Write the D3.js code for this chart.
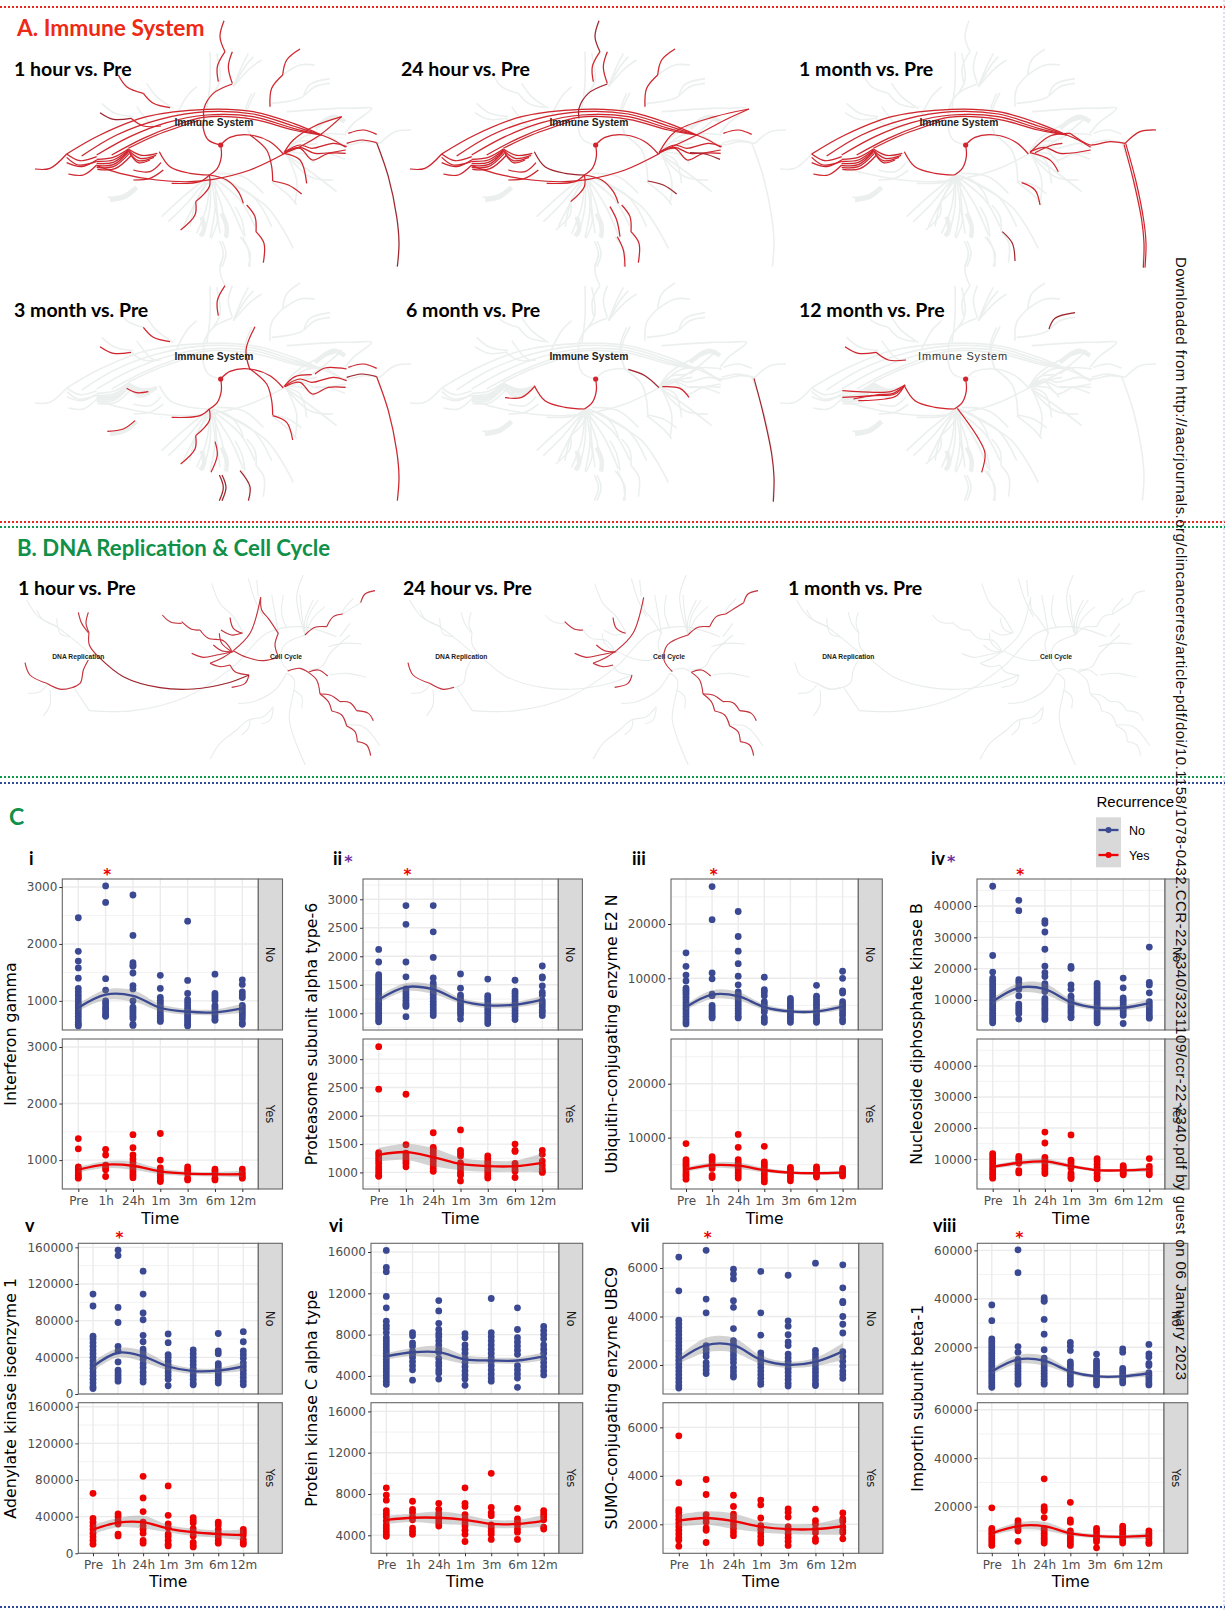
<!DOCTYPE html>
<html>
<head>
<meta charset="utf-8">
<script src="https://cdn.jsdelivr.net/npm/d3@7"></script>
<style>
  html, body { margin: 0; padding: 0; background: #fff; }
  svg { display: block; }
</style>
</head>
<body>
<svg id="fig" width="1225" height="1611"></svg>
<script>
/* time points shared by all the expression panels */
var times = ["Pre", "1h", "24h", "1m", "3m", "6m", "12m"];

/* panel C values, one list per time point */
var ifngNo = [
  [2460,1870,1700,1580,1400,1220,1160,1100,1040,980,930,880,830,780,730,680,630,590,560],
  [3020,2730,1390,1190,1000,960,910,870,830,790,750,730],
  [2860,2150,1670,1630,1610,1490,1270,1210,1000,890,850,810,770,730,690,590,570],
  [1450,1220,1060,1010,970,930,880,840,790,750,710,670,640],
  [2400,1360,1130,1020,970,920,870,830,790,750,710,670,630,590,560],
  [1470,1130,1090,1050,1010,920,880,840,800,760,720,680,660],
  [1370,1290,1160,1110,1060,920,880,840,800,760,720,680,620,590]];
var ifngYes = [
  [1380,1200,880,850,810,770,730,700,680],
  [1190,1090,910,870,830,710],
  [1450,1220,1090,1020,960,900,860,810,770,730,690],
  [1470,1000,860,810,770,730,690,650,620],
  [880,830,790,760,680,650],
  [840,800,760,680,650],
  [840,780,740,700,680]];
var psma6No = [
  [2120,1900,1680,1640,1600,1560,1520,1480,1440,1400,1360,1320,1280,1240,1200,1160,1120,1080,1040,1000,960,920,880,850],
  [2890,2560,1900,1640,1430,1380,1330,1280,1230,1180,1150,1120,940],
  [2890,2430,1980,1620,1530,1480,1430,1380,1330,1270,1210,1160,1110,1060,1010,960],
  [1690,1440,1320,1270,1220,1170,1120,1070,1020,970,900],
  [1600,1310,1270,1220,1170,1120,1070,1020,970,920,870,820],
  [1580,1390,1350,1300,1250,1200,1150,1100,1050,1000,950,890],
  [1830,1640,1620,1480,1370,1320,1220,1170,1120,1060,1020,960]];
var psma6Yes = [
  [3220,2470,1350,1310,1260,1210,1160,1100,1050,1000,950,930],
  [2380,1490,1340,1290,1240,1200,1160,1100],
  [1700,1440,1400,1350,1300,1240,1190,1130,1070,1020],
  [1750,1390,1340,1290,1170,1120,1060,1000,950,850],
  [1290,1240,1190,1140,1090,1040,990,940,900],
  [1500,1390,1370,1160,1110,1060,1020,910],
  [1390,1320,1200,1130,1060,1020,1000]];
var ube2nNo = [
  [14700,12200,10600,9500,8200,7800,7400,7000,6500,6000,5500,5000,4500,4000,3500,3000,2500,2000,1600],
  [26900,20800,11000,9900,7100,6800,5000,4600,4200,3800,3400,3000,2700],
  [22300,17700,15000,12700,10400,8800,7500,7000,6500,6000,5500,5000,4500,4000,3500,3000,2700],
  [10200,7900,7500,6800,5700,5200,4700,4200,3800,2800,2300,1900],
  [6300,5900,5500,5100,4700,4300,3900,3500,3100,2700,2300,1900],
  [8700,6700,6200,5700,5200,4700,4200,3700,3200,2700,2200,1900],
  [11300,10000,7700,7300,5700,5200,4800,4300,3700,3200,2500,2000]];
var ube2nYes = [
  [8900,5900,5500,5100,4700,4200,3700,3200,2800,2300],
  [6500,6100,5700,5200,4800,4300,3000,2600],
  [10600,8200,5900,5400,5000,4500,4000,3500,3000,2500],
  [8400,5500,5100,4700,4200,3700,3200,2700,2200,1800],
  [4500,4100,3700,3300,2900,2500,2000],
  [4600,4200,3800,3400,3000,2700],
  [4300,3900,3500,3100,2900]];
var nme2No = [
  [46300,24200,18900,17000,16200,15400,14600,13800,13000,12200,11400,10600,9800,9000,8200,7400,6600,5800,5000,4200,3400,2700],
  [41800,38500,16500,15600,14400,13400,11300,8700,7900,7200,6500,5700,3900],
  [35300,34500,31700,26200,20800,18700,17500,15200,14500,13800,12700,10500,9700,9000,8200,7400,6700,5900,5200,4400,3800],
  [20700,20100,14800,13400,11200,10300,9600,8800,8000,7200,6400,5700,4800,4300],
  [15300,14500,13700,12900,12100,11300,10500,9700,8900,8100,7300,6500,5700,4900,4100,3300,2700],
  [17000,13900,10700,9900,9100,8300,7500,6700,5900,5100,2500],
  [26900,15600,14800,12300,9500,8700,7900,7100,6300,5500,4700,4200]];
var nme2Yes = [
  [11800,11000,10200,9400,8600,7800,7000,6200,5400,4600,3900],
  [10900,10200,9500,8700,6300,5600],
  [18700,15200,10600,9800,8900,8000,7100,6200,5400],
  [17800,9700,8900,8100,7200,5500,4800,4200,3800],
  [10200,9400,8400,7300,6400,5500,4400,3700],
  [7900,7300,6700,6100,5500,5000],
  [10200,7700,6700,5700,5000]];
var ak1No = [
  [109000,96000,63000,60000,56000,52000,48000,44000,40000,36000,32000,28000,24000,20000,16000,12000,8000,6000],
  [157000,151000,94500,78000,52000,47000,35000,26000,23000,20000,17000,14000],
  [134000,109000,88500,81000,64000,57000,49000,46000,42000,38000,33000,29000,24000,20000,16000,13000],
  [65500,56000,43000,40000,36000,32000,28000,24000,20000,16000,9000],
  [48000,44000,40000,36000,32000,28000,24000,20000,16000,12000,10000],
  [66000,47000,44000,33000,30000,27000,24000,21000,18000,15000,12000],
  [68000,57000,47000,43000,39000,34000,30000,26000,22000,18000,14000,10000]];
var ak1Yes = [
  [65500,38000,34000,30000,26000,22000,18000,14000,10000],
  [43000,40000,36000,32000,21000,19000],
  [84000,60500,45500,34000,30000,26000,22000,14000,11000],
  [73500,41500,32000,28000,21000,18000,14000,10000,8000],
  [39000,36000,33000,27000,23000,19000,12000,9000,7000],
  [34000,31000,26000,22000,18000,14000,11000],
  [26000,23000,20000,15000,12000,10000]];
var pkcaNo = [
  [16150,14500,14100,11700,10600,9300,8900,8600,8200,7700,7400,7100,6800,6500,6200,5900,5600,5300,5000,4700,4400,4100,3800,3500,3200],
  [8200,7900,7200,6900,6400,6100,5800,5400,5000,4600,3600],
  [11300,10300,9100,8500,8100,7800,7400,7000,6600,6300,5700,5300,5000,4600,4300,3700],
  [8100,7700,7000,6600,6200,5700,5300,4900,4500,4100,3700,3100],
  [11500,8200,7800,7400,7000,6600,6200,5800,5400,5000,4600,4200,3800,3500],
  [10600,8500,7700,7300,6900,6500,6100,5000,4600,4200,3800,2900],
  [8800,8400,8000,7600,7000,6600,6200,5700,5300,4900,4500,4100]];
var pkcaYes = [
  [8600,7900,7400,6400,6100,5800,5400,5000,4700,4400,4100,3900],
  [7300,6500,6200,5800,5500,4700,4400,4100],
  [7100,6500,6100,5800,5500,5200,4900],
  [8600,7100,6800,6000,5600,5200,4900,4500,4100,3400],
  [10000,6700,6200,5900,5000,4700,4400,4100,3600],
  [6600,5600,5300,5000,4600,4300,3600],
  [6400,6100,5800,5500,4800,4600]];
var ubc9No = [
  [6450,5060,3850,3700,3550,3400,3250,3100,2950,2800,2650,2500,2350,2200,2050,1900,1750,1600,1450,1300,1150,1050],
  [6730,4720,4150,2800,2650,2500,2350,2100,1950,1800,1650],
  [5950,5750,5550,4650,4380,3500,3000,2850,2700,2550,2400,2250,2100,1900,1750,1600,1500],
  [5860,4150,3230,2500,2350,2200,2050,1900,1750,1600,1450,1300,1200],
  [5700,3820,3600,3250,2950,2800,2450,2300,2150,2000,1850,1700,1550,1400,1250,1130],
  [6200,2600,2450,2300,2150,2000,1850,1700,1550,1400,1250,1150],
  [6130,5180,4620,4570,4000,3680,3320,2550,2350,2150,1950,1750,1600,1450]];
var ubc9Yes = [
  [5650,3720,2600,2500,2350,2200,2050,1900,1750,1600,1450,1350,1100],
  [3850,3230,2400,2250,2100,1850,1750,1250],
  [3200,2740,2420,2280,2130,1980,1830,1680,1530],
  [3000,2800,2260,1950,1800,1650,1500,1350,1230],
  [2640,2500,2300,1900,1750,1600,1450,1300,1130],
  [2630,2150,2000,1800,1650,1400,1300],
  [2470,2230,2130,1900,1750,1650,1400]];
var kpnb1No = [
  [37500,31000,23500,22500,21500,20500,19500,18500,17500,16500,15500,14500,13500,12500,11500,10500,9500,8500,7500,6500,5500,4500,3500],
  [60200,50800,20300,18000,15000,13800,12500,11300,10100,8900,7700,6500,5300,4800],
  [40500,39500,39000,31500,25400,19000,15500,14000,12800,11600,10400,9200,8000,6800,5600,4800],
  [22000,20500,18700,14000,13000,12000,10800,9600,8400,7200,6000,4800],
  [17200,14500,13500,12500,11500,10500,9500,8500,7500,6500,5500,4500],
  [19300,18000,11300,10300,9300,8300,7300,6300,5300],
  [21200,17300,16000,13400,12500,9500,8500,7500,6500,5300,4500]];
var kpnb1Yes = [
  [19500,11000,10000,9000,8000,7000,6000,5000,4000],
  [14200,13000,12000,11000,10000,5700],
  [31500,20000,19000,18300,15500,11000,10000,9000,8000,7000,6000,5000],
  [21800,14500,13500,10000,9000,8000,7000,6000,5000,4000],
  [11000,9900,8500,7500,6500,5500,3000],
  [12000,11000,10000,9000,8000,7000,6000,5000],
  [10000,9000,8000,7000,5500,4800]];

/* smooth fit and half width of its band at each time point */
var ifngNoFit = [880,1110,1090,880,810,800,870],        ifngNoSe = [60,90,100,60,50,50,80];
var ifngYesFit = [830,920,900,800,760,750,750],         ifngYesSe = [50,60,70,50,40,40,60];
var psma6NoFit = [1240,1460,1420,1220,1140,1150,1240],  psma6NoSe = [60,70,80,50,50,50,70];
var psma6YesFit = [1310,1360,1270,1150,1110,1110,1170], psma6YesSe = [120,140,160,110,100,100,170];
var ube2nNoFit = [4700,7000,6700,4700,3900,3900,4800],  ube2nNoSe = [500,800,800,500,400,400,600];
var ube2nYesFit = [4100,4900,4800,4000,3500,3400,3500], ube2nYesSe = [400,500,600,400,300,300,400];
var nme2NoFit = [9500,13900,13500,9300,7500,7500,9000], nme2NoSe = [1000,1500,1800,1000,800,800,1200];
var nme2YesFit = [7500,8800,9300,7800,6500,6400,6700],  nme2YesSe = [600,800,900,600,500,500,800];
var ak1NoFit = [30000,45000,41000,30000,25000,25500,30000], ak1NoSe = [5000,5000,6000,4000,3000,3000,5000];
var ak1YesFit = [26000,33500,34000,27000,23000,21000,20000], ak1YesSe = [5000,5000,7000,4000,4000,4000,6000];
var pkcaNoFit = [5900,6300,6300,5600,5500,5500,5900],   pkcaNoSe = [300,400,600,400,300,300,400];
var pkcaYesFit = [5500,5700,5700,5500,5100,5100,5400],  pkcaYesSe = [400,400,600,500,400,400,600];
var ubc9NoFit = [2200,2820,2820,2220,2010,2130,2560],   ubc9NoSe = [150,300,300,170,130,170,350];
var ubc9YesFit = [2150,2260,2130,1900,1800,1800,1920],  ubc9YesSe = [250,280,320,230,200,230,350];
var kpnb1NoFit = [10000,15000,14500,10000,8000,8000,9300], kpnb1NoSe = [1200,1800,2000,1000,800,800,1300];
var kpnb1YesFit = [9000,12000,12000,9000,7800,7500,8000], kpnb1YesSe = [1000,1500,1800,1000,800,800,1200];

/* pathway map branches, in map units (3 units to a pixel) */
var immuneBranches = {
  down: [[662,435],[664,470],[652,505],[628,525]],
  right: [[662,435],[690,412],[750,405],[810,425],[850,462]],
  rightEnd: [[760,406],[810,425],[852,461]],
  upL: [[662,435],[625,420],[610,385],[612,355]],
  upH: [[612,355],[612,325],[640,280],[697,252]],
  top1: [[672,62],[660,110],[675,155]],
  top2: [[675,155],[652,200],[655,245]],
  top3: [[697,155],[685,200],[697,250]],
  r1: [[810,320],[815,265],[848,225]],
  r2: [[848,225],[860,180],[900,147]],
  arc1: [[200,462],[300,405],[440,350],[620,328],[760,335],[880,370],[965,405]],
  arc2: [[245,468],[350,405],[480,358],[620,335],[760,342],[880,378],[965,405]],
  arc3: [[290,465],[390,410],[500,368],[620,345],[760,350],[880,385],[965,405]],
  arc4: [[335,465],[430,415],[530,375],[610,352],[760,358],[880,390],[965,405]],
  arc5: [[385,445],[470,405],[600,360]],
  arcEnd: [[965,405],[1000,420],[1037,442]],
  tail: [[105,507],[150,505],[200,462]],
  cl1: [[290,478],[340,472],[385,447]],
  cl2: [[290,484],[340,480],[385,450]],
  cl3: [[290,490],[340,487],[385,453]],
  cl4: [[290,496],[340,494],[385,456]],
  cl5: [[290,502],[340,500],[388,460]],
  cl6: [[292,508],[345,506],[395,465]],
  cr1: [[385,447],[425,466],[472,460]],
  cr2: [[385,450],[420,475],[468,466]],
  cr3: [[385,453],[415,482],[462,472]],
  cr4: [[390,460],[415,488],[450,480]],
  lo1: [[200,462],[240,482],[290,470]],
  lo2: [[200,472],[235,495],[290,484]],
  lo3: [[205,522],[250,525],[290,495]],
  lo4: [[200,488],[245,500],[290,480]],
  lowArc: [[290,497],[360,520],[470,540],[570,545],[640,538],[750,510],[855,460]],
  lrA: [[478,455],[510,500],[570,520],[628,525]],
  fanL: [[628,525],[600,545],[515,550]],
  fan1: [[628,525],[628,560],[587,605]],
  fan1b: [[587,605],[585,645],[542,690]],
  fan2: [[628,525],[680,540],[715,575],[730,610]],
  fan3: [[637,523],[697,608],[720,658],[710,715]],
  b1: [[740,615],[765,650],[768,695]],
  b2: [[768,695],[792,730],[790,788]],
  b3: [[705,620],[725,660],[735,710]],
  b4: [[727,710],[745,750],[750,800]],
  b6: [[645,623],[652,663],[633,715]],
  b7a: [[658,723],[670,760],[658,800]],
  b7b: [[666,723],[678,760],[666,800]],
  b8: [[720,710],[750,758],[745,800]],
  b9: [[772,695],[802,730],[810,783]],
  mid: [[750,405],[800,450],[815,500],[818,543]],
  mid2: [[818,543],[865,555],[905,582]],
  mid3: [[818,545],[860,565],[878,618]],
  mid4: [[830,548],[870,570],[885,615]],
  up1: [[765,278],[738,348],[750,408]],
  r3: [[852,460],[900,480],[920,550]],
  r3b: [[855,458],[915,480],[940,515]],
  c1: [[852,458],[880,420],[940,380],[1025,350]],
  c2: [[1025,350],[960,405],[900,440],[852,460]],
  c3: [[855,455],[900,435],[935,445],[1000,430],[1040,440]],
  c4: [[855,458],[900,445],[937,480],[985,460],[1037,460]],
  c5: [[855,455],[900,442],[945,460],[1037,450]],
  c6: [[852,458],[885,428],[935,422]],
  c7: [[945,420],[975,402],[1040,405]],
  c9: [[945,458],[990,462],[1035,478]],
  c10: [[855,458],[915,408],[975,400]],
  c11: [[870,458],[922,435],[952,430]],
  c12: [[862,458],[915,463],[942,490]],
  big1: [[852,458],[900,395],[1020,350],[1122,327]],
  big2: [[1122,327],[1050,360],[965,405],[852,458]],
  t1: [[1045,400],[1090,390],[1130,403]],
  t2: [[1040,430],[1085,420],[1130,428]],
  t3: [[975,400],[1005,420],[1035,435],[1095,425],[1140,430]],
  t4: [[1140,430],[1185,395],[1233,390]],
  long: [[1130,428],[1165,530],[1190,650],[1197,730],[1192,800]],
  long2: [[1137,433],[1165,540],[1190,660],[1197,730],[1195,803]],
  long3: [[1142,430],[1172,540],[1196,660],[1203,730],[1200,803]],
  w1: [[355,225],[380,260],[430,280]],
  w2: [[430,280],[460,310],[510,323]],
  w3: [[300,338],[340,358],[393,355]],
  w4: [[393,355],[430,378],[483,378]],
  w5: [[400,510],[450,515],[483,488]],
  w5b: [[480,456],[440,490],[390,491]],
  w6: [[400,540],[450,535],[490,510]],
  w7: [[380,463],[410,476],[445,473]],
  w8: [[322,592],[370,585],[405,560]],
  m1: [[480,453],[450,480],[390,485],[292,490]],
  m2: [[480,453],[440,472],[390,475],[292,470]],
  m3: [[480,453],[455,485],[420,495],[340,500]],
  m4: [[480,453],[445,478],[400,482],[325,495]],
  g1t: [[912,285],[930,253],[990,236]]
};
/* near copies of other branches, only ever shown when they are hit */
var immuneHitOnly = ["rightEnd","long2","long3","fan3","b9","mid4","mid3","r3b","m1","m2","m3","m4","w5b","big1","big2"];
var immuneGreyOnly = [
  [[815,310],[900,295],[945,260],[990,250]],
  [[848,225],[900,195],[945,195]],
  [[860,335],[1010,325],[1060,325],[1115,325],[1060,370],[1035,400]],
  [[630,525],[550,590],[485,650]],
  [[630,525],[565,605],[505,665]],
  [[630,525],[580,620],[550,680]],
  [[630,525],[620,620],[590,700]],
  [[630,525],[630,620],[610,708]],
  [[630,525],[645,620],[630,712]],
  [[630,525],[665,620],[680,715]],
  [[630,525],[690,615],[730,705]],
  [[630,525],[720,600],[765,680]],
  [[640,525],[760,590],[815,680]],
  [[640,525],[800,620],[880,745]],
  [[650,520],[730,530],[790,580]],
  [[620,330],[630,250],[630,155]],
  [[700,260],[725,200],[745,160]],
  [[700,260],[735,200],[760,170]],
  [[700,260],[750,205],[785,180]],
  [[640,280],[660,240],[650,160]],
  [[530,345],[560,290],[590,260]],
  [[440,250],[470,290],[520,325]],
  [[410,320],[450,370],[470,380]],
  [[305,310],[345,340],[400,350]],
  [[755,280],[735,340],[750,405]],
  [[860,465],[925,510],[1010,575]],
  [[860,465],[930,530],[1000,540]],
  [[860,465],[890,540],[885,610]],
  [[815,545],[870,590],[890,615]],
  [[630,540],[590,600],[570,680]],
  [[645,540],[650,620],[660,700]]
];
/* the wider wedges of the grey map */
var immuneGreyThick = [
  [[330,600],[375,590],[410,562]],
  [[945,385],[1000,350],[1035,365]],
  [[290,490],[340,490],[385,452]],
  [[385,452],[430,470],[470,462]],
  [[605,650],[612,690],[600,708]],
  [[665,640],[680,680],[678,712]]
];
var arcSet = ["arc1","arc2","arc3","arc4","arc5","arcEnd"];
var clusterSet = ["cl1","cl2","cl3","cl4","cl5","cl6","cr1","cr2","cr3","cr4","lo1","lo2","lo3","lo4"];
var immune1h = ["down","right","upL","upH","top1","top2","top3","r1","r2","tail","lowArc","lrA","fanL","fan1","fan1b","fan2","b1","b2","mid","mid2","r3","c1","c2","c3","c4","c5","t1","t2","w1","w2","w4","w5","w6"].concat(arcSet, clusterSet);
var immune1hDark = ["long","w3"];
var immune24h = ["down","right","top2","top3","r1","r2","tail","lowArc","fanL","fan1","fan2","b1","b2","b3","b4","big1","big2","c3","c4","c5","t1","w5","w6"].concat(arcSet, clusterSet);
var immune24hDark = ["upH","top1","lrA","mid2","c9"];
var immune1m = ["down","right","lrA","c10","c11","c5","r3b","t3","t4","long2","long3","mid4"].concat(arcSet, clusterSet);
var immune1mDark = ["b9"];
var immune3m = ["down","right","top2","mid","up1","mid3","c6","c7","c3","c4","t1","long","w2","w3","w7","w8","fanL","fan1","fan1b","b6"];
var immune3mDark = ["t2","b7a","b7b","b8"];
var immune6m = ["down","lrA","w5b","c12"];
var immune6mDark = ["rightEnd","long2"];
var immune12m = ["down","lrA","m1","m2","m3","m4","fan3","w3","w4"];
var immune12mDark = ["g1t"];

var cycleBranches = {
  d1: [[235,277],[245,310],[265,338]],
  d2: [[265,277],[258,310],[267,338]],
  d3: [[267,338],[268,375],[295,410]],
  link: [[295,410],[370,470],[480,503],[580,507],[680,490],[747,465]],
  d4: [[265,420],[250,450],[240,490],[185,508],[140,490]],
  d4b: [[140,490],[180,508],[213,502]],
  d5: [[140,490],[90,465],[75,428]],
  k1: [[747,465],[735,490],[695,502]],
  k2: [[747,465],[705,455],[690,435]],
  k3: [[690,435],[660,440],[630,430]],
  k4: [[630,430],[665,415],[700,392]],
  k5: [[700,392],[750,340],[782,232]],
  k6: [[782,232],[785,270],[805,295],[835,340]],
  k7: [[835,340],[825,375],[835,410]],
  k8: [[835,412],[790,422],[740,412],[700,392]],
  m1: [[575,400],[610,412],[650,405],[700,395]],
  m2: [[640,375],[665,392],[695,395]],
  m3: [[658,340],[665,370],[695,395]],
  m4: [[690,293],[700,325],[728,340]],
  m5: [[663,330],[695,345],[725,340]],
  m6: [[545,305],[575,328],[600,330]],
  m6b: [[600,330],[625,355],[670,362],[695,392]],
  m7: [[487,285],[510,305],[545,310]],
  n1: [[915,345],[945,322],[980,320]],
  n2: [[980,320],[1000,290],[1028,282]],
  n2b: [[1028,282],[1055,265],[1082,248]],
  n3: [[1082,248],[1095,222],[1125,212]],
  cc1: [[868,455],[843,420],[853,375],[915,345]],
  s1: [[863,453],[900,445],[925,457]],
  s2: [[925,457],[955,450],[983,468]],
  s3: [[925,457],[950,480],[960,522]],
  s4: [[960,522],[990,525],[1020,545]],
  s5: [[1020,545],[1050,548],[1070,572]],
  s6: [[1070,572],[1105,580],[1120,602]],
  s7: [[960,522],[985,545],[995,573]],
  s8: [[995,573],[1025,585],[1040,618]],
  s9: [[1040,618],[1065,635],[1072,665]],
  s10: [[1072,665],[1100,675],[1112,707]]
};
var cycleGreyOnly = [
  [[268,572],[400,572],[560,530],[700,440],[800,340],[900,320],[1010,350]],
  [[223,505],[268,572]],
  [[80,240],[115,290],[170,320],[210,350],[270,400]],
  [[170,295],[180,340],[210,350]],
  [[110,270],[130,300],[175,320]],
  [[85,520],[120,515],[140,495]],
  [[150,510],[150,555],[130,588]],
  [[635,190],[660,250],[700,290],[730,340]],
  [[745,175],[765,240],[790,290]],
  [[770,180],[775,230]],
  [[815,225],[825,280],[835,340]],
  [[850,225],[845,280],[860,325]],
  [[910,165],[890,230],[915,345]],
  [[900,225],[905,280],[915,345]],
  [[940,240],[915,300],[915,345]],
  [[955,240],[925,290],[918,340]],
  [[975,260],[935,300],[920,340]],
  [[1060,235],[1030,270],[1028,282]],
  [[860,460],[883,480],[868,600],[916,735]],
  [[880,510],[905,530],[905,565]],
  [[860,460],[825,510],[760,545],[715,550]],
  [[820,560],[790,590],[745,600],[710,630],[660,670],[630,718]],
  [[820,565],[810,600],[785,612]],
  [[750,600],[745,625],[725,645]],
  [[985,380],[1030,370],[1085,372]],
  [[925,450],[965,440],[990,400],[1050,345]],
  [[990,465],[1040,460],[1100,472]],
  [[1040,615],[1090,620],[1140,678]],
  [[1020,350],[1050,310]]
];
var cycle1h = ["d1","d2","d3","d4","d5","k1","k2","k3","k4","k5","k6","k7","k8","m1","m2","m3","m4","m5","m6","m6b","m7","n1","n2","n3","s1","s2","s3","s4","s5","s6","s7","s8","s9","s10"];
var cycle1hDark = ["link"];
var cycle24h = ["d5","d4b","k1","k3","k4","k5","m6","m4","m2","m1","n1","n2","n2b","n3","cc1","s2","s3","s4","s5","s6","s7","s8","s9","s10"];
var cycle1m = [];

/* ---------- layout ---------- */
var svg = d3.select("#fig");
var FONT_HEAD = "Lato, 'Open Sans', sans-serif";
var FONT_PLOT = "'DejaVu Sans', sans-serif";
var FONT_ARIAL = "'Liberation Sans', Arial, sans-serif";
var BLUE = "#3b4992", RED = "#ee0000";

var rows = [
  {no: [879, 1030], yes: [1039, 1189], timeY: 1224, labelY: 865, starY: 880},
  {no: [1243.3, 1394], yes: [1402.7, 1553.3], timeY: 1587, labelY: 1232, starY: 1243}
];

var panels = [
  {name:"i", purple:false, sig:true, title:"Interferon gamma", row:0, x0:62.3, x1:258.3, strip:282.5, pre:78.3, last:242.3, titleX:16, labelX:29,
   domain:[489,3141], ticks:[1000,2000,3000], no:ifngNo, yes:ifngYes, noFit:ifngNoFit, yesFit:ifngYesFit, noSe:ifngNoSe, yesSe:ifngYesSe},
  {name:"ii", purple:true, sig:true, title:"Proteasome subunit alpha type-6", row:0, x0:363, x1:558.3, strip:582.4, pre:378.7, last:542.3, titleX:317, labelX:333,
   domain:[707,3356], ticks:[1000,1500,2000,2500,3000], no:psma6No, yes:psma6Yes, noFit:psma6NoFit, yesFit:psma6YesFit, noSe:psma6NoSe, yesSe:psma6YesSe},
  {name:"iii", purple:false, sig:true, title:"Ubiquitin-conjugating enzyme E2 N", row:0, x0:671, x1:858.3, strip:882.3, pre:686, last:842.6, titleX:617, labelX:632,
   domain:[480,28290], ticks:[10000,20000], no:ube2nNo, yes:ube2nYes, noFit:ube2nNoFit, yesFit:ube2nYesFit, noSe:ube2nNoSe, yesSe:ube2nYesSe},
  {name:"iv", purple:true, sig:true, title:"Nucleoside diphosphate kinase B", row:0, x0:977, x1:1165, strip:1189, pre:992.7, last:1149.3, titleX:922, labelX:931,
   domain:[423,48620], ticks:[10000,20000,30000,40000], no:nme2No, yes:nme2Yes, noFit:nme2NoFit, yesFit:nme2YesFit, noSe:nme2NoSe, yesSe:nme2YesSe},
  {name:"v", purple:false, sig:true, title:"Adenylate kinase isoenzyme 1", row:1, x0:78.3, x1:258.3, strip:282.3, pre:93, last:243.3, titleX:16, labelX:25,
   domain:[0,164400], ticks:[0,40000,80000,120000,160000], no:ak1No, yes:ak1Yes, noFit:ak1NoFit, yesFit:ak1YesFit, noSe:ak1NoSe, yesSe:ak1YesSe},
  {name:"vi", purple:false, sig:false, title:"Protein kinase C alpha type", row:1, x0:371, x1:559, strip:582.7, pre:386.3, last:543.7, titleX:317, labelX:329,
   domain:[2258,16842], ticks:[4000,8000,12000,16000], no:pkcaNo, yes:pkcaYes, noFit:pkcaNoFit, yesFit:pkcaYesFit, noSe:pkcaNoSe, yesSe:pkcaYesSe},
  {name:"vii", purple:false, sig:true, title:"SUMO-conjugating enzyme UBC9", row:1, x0:663, x1:858.8, strip:882.9, pre:678.8, last:842.8, titleX:617, labelX:631,
   domain:[804,7018], ticks:[2000,4000,6000], no:ubc9No, yes:ubc9Yes, noFit:ubc9NoFit, yesFit:ubc9YesFit, noSe:ubc9NoSe, yesSe:ubc9YesSe},
  {name:"viii", purple:false, sig:true, title:"Importin subunit beta-1", row:1, x0:977.3, x1:1164, strip:1187.8, pre:991.8, last:1148.9, titleX:923, labelX:933,
   domain:[743,62900], ticks:[20000,40000,60000], no:kpnb1No, yes:kpnb1Yes, noFit:kpnb1NoFit, yesFit:kpnb1YesFit, noSe:kpnb1NoSe, yesSe:kpnb1YesSe}
];

/* dotted rules between the sections */
var rules = [
  {y: 7, c: "#e8281c"}, {y: 522, c: "#e8281c"}, {y: 527, c: "#109a4f"},
  {y: 777, c: "#109a4f"}, {y: 783, c: "#2f4a9c"}, {y: 1607, c: "#2f4a9c"}
];
svg.selectAll("line.rule").data(rules).join("line").attr("class", "rule")
  .attr("x1", 0).attr("x2", 1225).attr("y1", d => d.y).attr("y2", d => d.y)
  .attr("stroke", d => d.c).attr("stroke-width", 2).attr("stroke-dasharray", "2 2");
svg.append("line").attr("x1", 1224).attr("x2", 1224).attr("y1", 0).attr("y2", 1611)
  .attr("stroke", "#b9c3de").attr("stroke-width", 1).attr("stroke-dasharray", "2 2");

function heading(txt, x, y, size, color) {
  svg.append("text").attr("x", x).attr("y", y).text(txt)
    .attr("font-family", FONT_HEAD).attr("font-weight", 700)
    .attr("font-size", size).attr("fill", color);
}
heading("A. Immune System", 17, 36, 22.7, "#ee2a14");
heading("B. DNA Replication & Cell Cycle", 17, 556, 22.2, "#109048");
heading("C", 9, 825, 23, "#109048");

/* ---------- pathway maps ---------- */
function drawMap(spec, branches, greyOnly, thick, hitOnly, width) {
  var mx = d3.scaleLinear().domain([0, 1260]).range([spec.dx, spec.dx + 420]);
  var my = d3.scaleLinear().domain([0, 900]).range([spec.dy, spec.dy + 300]);
  var path = d3.line().x(d => mx(d[0])).y(d => my(d[1])).curve(d3.curveCatmullRom.alpha(0.5));
  var g = svg.append("g");
  var allGrey = Object.keys(branches).filter(k => hitOnly.indexOf(k) < 0).map(k => branches[k]).concat(greyOnly);
  g.selectAll("path.base").data(allGrey).join("path").attr("class", "base")
    .attr("d", path).attr("fill", "none").attr("stroke", spec.grey)
    .attr("stroke-width", spec.greyWidth);
  g.selectAll("path.wedge").data(thick).join("path").attr("class", "wedge")
    .attr("d", path).attr("fill", "none").attr("stroke", spec.grey)
    .attr("stroke-width", 4.5);
  g.selectAll("path.hit").data(spec.red).join("path").attr("class", "hit")
    .attr("d", k => path(branches[k])).attr("fill", "none")
    .attr("stroke", spec.redColor).attr("stroke-width", width);
  g.selectAll("path.dark").data(spec.dark).join("path").attr("class", "dark")
    .attr("d", k => path(branches[k])).attr("fill", "none")
    .attr("stroke", "#a1242c").attr("stroke-width", width);
  if (spec.hub) {
    g.append("circle").attr("cx", mx(spec.hub[0])).attr("cy", my(spec.hub[1]))
      .attr("r", 2.6).attr("fill", spec.redColor);
  }
  return {g: g, mx: mx, my: my};
}

var immunePanels = [
  {title:"1 hour vs. Pre",   tx:14,  ty:76,  dx:0,   dy:0,   red:immune1h,  dark:immune1hDark},
  {title:"24 hour vs. Pre",  tx:401, ty:76,  dx:375, dy:0,   red:immune24h, dark:immune24hDark},
  {title:"1 month vs. Pre",  tx:799, ty:76,  dx:745, dy:0,   red:immune1m,  dark:immune1mDark},
  {title:"3 month vs. Pre",  tx:14,  ty:317, dx:0,   dy:234, red:immune3m,  dark:immune3mDark},
  {title:"6 month vs. Pre",  tx:406, ty:317, dx:375, dy:234, red:immune6m,  dark:immune6mDark},
  {title:"12 month vs. Pre", tx:799, ty:317, dx:745, dy:234, red:immune12m, dark:immune12mDark, plain:true}
];
immunePanels.forEach(function(p) {
  p.grey = "#ebf0ee"; p.greyWidth = 1.6; p.redColor = "#d3232c"; p.hub = [662, 435];
  var m = drawMap(p, immuneBranches, immuneGreyOnly, immuneGreyThick, immuneHitOnly, 1.2);
  var lab = m.g.append("text").attr("x", m.mx(p.plain ? 654 : 642)).attr("y", m.my(378))
    .attr("text-anchor", "middle").text("Immune System").attr("font-family", FONT_ARIAL);
  if (p.plain) lab.attr("font-size", 11).attr("letter-spacing", 0.8).attr("fill", "#333");
  else lab.attr("font-size", 10.3).attr("font-weight", 700).attr("fill", "#1c2320");
});

var cyclePanels = [
  {title:"1 hour vs. Pre",  tx:18,  ty:595, dx:0,   dy:520, red:cycle1h,  dark:cycle1hDark},
  {title:"24 hour vs. Pre", tx:403, ty:595, dx:383, dy:520, red:cycle24h, dark:[]},
  {title:"1 month vs. Pre", tx:788, ty:595, dx:770, dy:520, red:cycle1m,  dark:[]}
];
cyclePanels.forEach(function(p) {
  p.grey = "#e8edeb"; p.greyWidth = 1.1; p.redColor = "#c8303a";
  var m = drawMap(p, cycleBranches, cycleGreyOnly, [], [], 1.1);
  [["DNA Replication", 235], ["Cell Cycle", 858]].forEach(function(l) {
    m.g.append("text").attr("x", m.mx(l[1])).attr("y", m.my(416)).attr("text-anchor", "middle")
      .text(l[0]).attr("font-family", FONT_ARIAL).attr("font-weight", 700)
      .attr("font-size", 6.7).attr("fill", "#1c2320");
  });
});

immunePanels.concat(cyclePanels).forEach(function(p) {
  heading(p.title, p.tx, p.ty, 19.5, "#000");
});

/* ---------- expression panels ---------- */
function drawFacet(p, range, color, vals, fit, se, facetName, showX) {
  var g = svg.append("g");
  var x = d3.scalePoint().domain(times).range([p.pre, p.last]);
  var y = d3.scaleLinear().domain(p.domain).range([range[1], range[0]]);

  /* grid */
  var minor = [];
  var step = p.ticks[1] - p.ticks[0];
  for (var v = p.ticks[0] - step / 2; v < p.domain[1]; v += step) {
    if (v > p.domain[0]) minor.push(v);
  }
  g.selectAll("line.minor").data(minor).join("line").attr("class", "minor")
    .attr("x1", p.x0).attr("x2", p.x1).attr("y1", d => y(d)).attr("y2", d => y(d))
    .attr("stroke", "#ececec").attr("stroke-width", 0.7);
  g.selectAll("line.majorY").data(p.ticks).join("line").attr("class", "majorY")
    .attr("x1", p.x0).attr("x2", p.x1).attr("y1", d => y(d)).attr("y2", d => y(d))
    .attr("stroke", "#ebebeb").attr("stroke-width", 1.4);
  g.selectAll("line.majorX").data(times).join("line").attr("class", "majorX")
    .attr("x1", d => x(d)).attr("x2", d => x(d)).attr("y1", range[0]).attr("y2", range[1])
    .attr("stroke", "#ebebeb").attr("stroke-width", 1.4);

  /* points */
  times.forEach(function(t, i) {
    g.selectAll("circle.t" + i).data(vals[i]).join("circle").attr("class", "t" + i)
      .attr("cx", x(t)).attr("cy", d => y(d)).attr("r", 3.4).attr("fill", color);
  });

  /* smooth and its band */
  var curve = d3.curveCatmullRom.alpha(0.5);
  var band = d3.area().x((d, i) => x(times[i])).y0((d, i) => y(d - se[i])).y1((d, i) => y(d + se[i])).curve(curve);
  g.append("path").attr("d", band(fit)).attr("fill", "#777").attr("fill-opacity", 0.32);
  var fitLine = d3.line().x((d, i) => x(times[i])).y(d => y(d)).curve(curve);
  g.append("path").attr("d", fitLine(fit)).attr("fill", "none").attr("stroke", color).attr("stroke-width", 2.3);

  /* frame and strip */
  g.append("rect").attr("x", p.x0).attr("y", range[0]).attr("width", p.x1 - p.x0).attr("height", range[1] - range[0])
    .attr("fill", "none").attr("stroke", "#666").attr("stroke-width", 1.1);
  g.append("rect").attr("x", p.x1).attr("y", range[0]).attr("width", p.strip - p.x1).attr("height", range[1] - range[0])
    .attr("fill", "#d9d9d9").attr("stroke", "#666").attr("stroke-width", 1.1);
  var cx = (p.x1 + p.strip) / 2, cy = (range[0] + range[1]) / 2;
  g.append("text").attr("transform", "translate(" + cx + "," + cy + ") rotate(90)")
    .attr("text-anchor", "middle").attr("dy", "0.35em").text(facetName)
    .attr("font-family", FONT_PLOT).attr("font-size", 11.5).attr("fill", "#1a1a1a");

  /* axes */
  var ya = d3.axisLeft(y).tickValues(p.ticks).tickSize(3).tickPadding(2).tickFormat(d3.format("d"));
  var yg = g.append("g").attr("transform", "translate(" + p.x0 + ",0)").call(ya);
  yg.select(".domain").remove();
  yg.selectAll("line").attr("stroke", "#333");
  yg.selectAll("text").attr("font-family", FONT_PLOT).attr("font-size", 12).attr("fill", "#4d4d4d");
  if (showX) {
    var xa = d3.axisBottom(x).tickSize(3).tickPadding(4);
    var xg = g.append("g").attr("transform", "translate(0," + range[1] + ")").call(xa);
    xg.select(".domain").remove();
    xg.selectAll("line").attr("stroke", "#333");
    xg.selectAll("text").attr("font-family", FONT_PLOT).attr("font-size", 12).attr("fill", "#4d4d4d");
  }
  return x;
}

panels.forEach(function(p) {
  var r = rows[p.row];
  var x = drawFacet(p, r.no, BLUE, p.no, p.noFit, p.noSe, "No", false);
  drawFacet(p, r.yes, RED, p.yes, p.yesFit, p.yesSe, "Yes", true);

  svg.append("text").attr("x", (p.x0 + p.x1) / 2).attr("y", r.timeY).attr("text-anchor", "middle")
    .text("Time").attr("font-family", FONT_PLOT).attr("font-size", 15.5).attr("fill", "#000");
  var my = (r.no[0] + r.yes[1]) / 2;
  svg.append("text").attr("transform", "translate(" + p.titleX + "," + my + ") rotate(-90)")
    .attr("text-anchor", "middle").text(p.title)
    .attr("font-family", FONT_PLOT).attr("font-size", 15.8).attr("fill", "#000");

  var lab = svg.append("text").attr("x", p.labelX).attr("y", r.labelY)
    .attr("font-family", FONT_HEAD).attr("font-weight", 700).attr("font-size", 18).attr("fill", "#000");
  lab.append("tspan").text(p.name);
  if (p.purple) {
    lab.append("tspan").text("*").attr("dx", 2).attr("dy", 2)
      .attr("font-family", FONT_PLOT).attr("font-size", 16).attr("fill", "#7030a0");
  }
  if (p.sig) {
    svg.append("text").attr("x", x("1h") + 1.5).attr("y", r.starY).attr("text-anchor", "middle").text("*")
      .attr("font-family", FONT_PLOT).attr("font-weight", 700).attr("font-size", 15).attr("fill", RED);
  }
});

/* legend */
var legendKeys = [{lab: "No", c: BLUE, y: 830}, {lab: "Yes", c: RED, y: 855}];
var leg = svg.append("g");
leg.append("text").attr("x", 1096.5).attr("y", 807).text("Recurrence")
  .attr("font-family", FONT_ARIAL).attr("font-size", 15).attr("fill", "#000");
leg.append("rect").attr("x", 1096).attr("y", 817.3).attr("width", 25).attr("height", 50).attr("fill", "#d9d9d9");
leg.selectAll("line").data(legendKeys).join("line")
  .attr("x1", 1098.5).attr("x2", 1118.5).attr("y1", d => d.y).attr("y2", d => d.y)
  .attr("stroke", d => d.c).attr("stroke-width", 2.3);
leg.selectAll("circle").data(legendKeys).join("circle")
  .attr("cx", 1108.5).attr("cy", d => d.y).attr("r", 3).attr("fill", d => d.c);
leg.selectAll("text.key").data(legendKeys).join("text").attr("class", "key")
  .attr("x", 1129).attr("y", d => d.y + 4.5).text(d => d.lab)
  .attr("font-family", FONT_ARIAL).attr("font-size", 12.5).attr("fill", "#000");

/* journal download stamp down the right side */
svg.append("text").attr("transform", "translate(1176,257) rotate(90)")
  .text("Downloaded from http://aacrjournals.org/clincancerres/article-pdf/doi/10.1158/1078-0432.CCR-22-2340/3231109/ccr-22-2340.pdf by guest on 06 January 2023")
  .attr("font-family", FONT_ARIAL).attr("font-size", 15).attr("textLength", 1123).attr("fill", "#111");
</script>
</body>
</html>
